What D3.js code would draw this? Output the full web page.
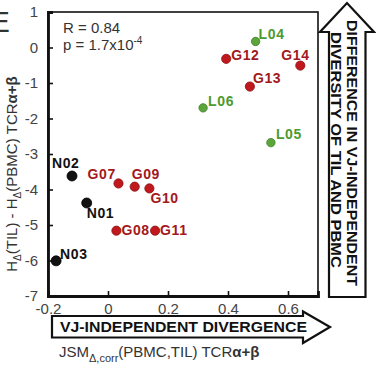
<!DOCTYPE html>
<html>
<head>
<meta charset="utf-8">
<script src="https://cdn.jsdelivr.net/npm/d3@7"></script>
<style>
  body { margin: 0; background: #fff; }
  svg { font-family: Arial, "Liberation Sans", Helvetica, sans-serif; }
</style>
</head>
<body>
<svg id="chart" width="376" height="365"></svg>
<script>
// values
const sampleNames = ["N01", "N02", "N03", "G07", "G08", "G09", "G10", "G11", "G12", "G13", "G14", "L04", "L05", "L06"];
const jsmValues   = [-0.071, -0.12, -0.173, 0.035, 0.028, 0.089, 0.138, 0.157, 0.394, 0.473, 0.641, 0.492, 0.543, 0.317];
const hDiffValues = [-4.38, -3.62, -6.01, -3.83, -5.16, -3.92, -3.97, -5.16, -0.32, -1.10, -0.51, 0.17, -2.68, -1.70];
const sampleGroup = ["N", "N", "N", "G", "G", "G", "G", "G", "G", "G", "G", "L", "L", "L"];
const xTicks = [-0.2, 0, 0.2, 0.4, 0.6];
const yTicks = [-7, -6, -5, -4, -3, -2, -1, 0, 1];

const groupFill   = { N: "#111111", G: "#c0181d", L: "#5ba53b" };
const groupStroke = { N: "#000000", G: "#8a0f12", L: "#3e7f25" };
const groupText   = { N: "#111111", G: "#a3181c", L: "#4e9a2f" };
const groupRadius = { N: 5, G: 4.6, L: 4.2 };

// label offsets from the dot (dx, dy)
const labelOffset = {
  N01: [0, 15], N02: [-20, -8], N03: [4, -2],
  G07: [-31, -4], G08: [5, 4], G09: [-3, -8], G10: [1, 15], G11: [5, 4],
  G12: [5, 1], G13: [3, -4], G14: [-19, -6],
  L04: [3, -2], L05: [5, -4], L06: [5, -2]
};

const svg = d3.select("#chart");
const plot = { left: 48, right: 318, top: 12, bottom: 296 };

const x = d3.scaleLinear().domain([-0.2, 0.7]).range([plot.left, plot.right]);
const y = d3.scaleLinear().domain([-7, 1]).range([plot.bottom, plot.top]);

const data = sampleNames.map((name, i) => ({
  name: name, x: jsmValues[i], y: hDiffValues[i], group: sampleGroup[i]
}));

// panel letter, cut by the edge as in the figure
svg.append("text")
  .attr("x", -9.5).attr("y", 32)
  .attr("font-size", 29).attr("fill", "#333")
  .text("E");

// frame
svg.append("rect")
  .attr("x", plot.left).attr("y", plot.top)
  .attr("width", plot.right - plot.left).attr("height", plot.bottom - plot.top)
  .attr("fill", "none").attr("stroke", "#111").attr("stroke-width", 1.6);

// axes (plain hyphen for minus, like the figure)
const yAxis = d3.axisLeft(y).tickValues(yTicks).tickSize(-5).tickPadding(10)
  .tickFormat(d => String(d));
const xAxis = d3.axisBottom(x).tickValues(xTicks).tickSize(-5).tickPadding(7)
  .tickFormat(d => d === 0 ? "0" : d.toFixed(1));

const gy = svg.append("g").attr("transform", `translate(${plot.left},0)`).call(yAxis);
const gx = svg.append("g").attr("transform", `translate(0,${plot.bottom})`).call(xAxis);

[gx, gy].forEach(g => {
  g.select(".domain").attr("stroke", "#111").attr("stroke-width", 2.8);
  g.selectAll(".tick line").attr("stroke", "#111").attr("stroke-width", 1.6);
  g.selectAll(".tick text").attr("fill", "#444").attr("font-size", 15)
    .attr("font-family", "Arial, 'Liberation Sans', sans-serif");
});

// stats
svg.append("text").attr("x", 63).attr("y", 33)
  .attr("font-size", 15).attr("fill", "#333")
  .text("R = 0.84");
const pText = svg.append("text").attr("x", 63).attr("y", 50)
  .attr("font-size", 15).attr("fill", "#333");
pText.append("tspan").text("p = 1.7x10");
pText.append("tspan").attr("font-size", 10).attr("dy", -6).text("-4");

// dots
svg.append("g").selectAll("circle")
  .data(data).enter().append("circle")
  .attr("cx", d => x(d.x))
  .attr("cy", d => y(d.y))
  .attr("r", d => groupRadius[d.group])
  .attr("fill", d => groupFill[d.group])
  .attr("stroke", d => groupStroke[d.group])
  .attr("stroke-width", 0.8);

// dot labels
svg.append("g").selectAll("text")
  .data(data).enter().append("text")
  .attr("x", d => x(d.x) + labelOffset[d.name][0])
  .attr("y", d => y(d.y) + labelOffset[d.name][1])
  .attr("font-size", 14)
  .attr("font-weight", "bold")
  .attr("letter-spacing", 0.6)
  .attr("fill", d => groupText[d.group])
  .text(d => d.name);

// y axis title
const yTitle = svg.append("text")
  .attr("transform", "translate(17,174) rotate(-90)")
  .attr("text-anchor", "middle")
  .attr("font-size", 15).attr("fill", "#333");
yTitle.append("tspan").text("H");
yTitle.append("tspan").attr("font-size", 10).attr("dy", 4).text("Δ");
yTitle.append("tspan").attr("dy", -4).text("(TIL) - H");
yTitle.append("tspan").attr("font-size", 10).attr("dy", 4).text("Δ");
yTitle.append("tspan").attr("dy", -4).text("(PBMC) TCR");
yTitle.append("tspan").attr("font-weight", "bold").text("α+β");

// x axis title
const xTitle = svg.append("text")
  .attr("x", 59).attr("y", 357)
  .attr("font-size", 15).attr("fill", "#333");
xTitle.append("tspan").text("JSM");
xTitle.append("tspan").attr("font-size", 11).attr("dy", 5).text("Δ,corr");
xTitle.append("tspan").attr("dy", -5).text("(PBMC,TIL) TCR");
xTitle.append("tspan").attr("font-weight", "bold").text("α+β");

// bottom arrow
svg.append("path")
  .attr("d", "M52,316 L303,316 L303,311.5 L330,327 L303,343 L303,337.5 L52,337.5 Z")
  .attr("fill", "#fff").attr("stroke", "#111").attr("stroke-width", 2.2);
svg.append("text")
  .attr("x", 60).attr("y", 332)
  .attr("font-size", 14).attr("font-weight", "bold").attr("fill", "#111")
  .attr("textLength", 247).attr("lengthAdjust", "spacingAndGlyphs")
  .text("VJ-INDEPENDENT DIVERGENCE");

// right arrow
svg.append("path")
  .attr("d", "M329,297 L329,32 L320,32 L347,3 L374,32 L365.5,32 L365.5,297 Z")
  .attr("fill", "#fff").attr("stroke", "#111").attr("stroke-width", 2.2);
svg.append("text")
  .attr("transform", "translate(347,153) rotate(90)")
  .attr("text-anchor", "middle")
  .attr("font-size", 15).attr("font-weight", "bold").attr("fill", "#111")
  .attr("textLength", 266).attr("lengthAdjust", "spacingAndGlyphs")
  .text("DIFFERENCE IN VJ-INDEPENDENT");
svg.append("text")
  .attr("transform", "translate(331,150) rotate(90)")
  .attr("text-anchor", "middle")
  .attr("font-size", 15).attr("font-weight", "bold").attr("fill", "#111")
  .attr("textLength", 236).attr("lengthAdjust", "spacingAndGlyphs")
  .text("DIVERSITY OF TIL AND PBMC");
</script>
</body>
</html>
